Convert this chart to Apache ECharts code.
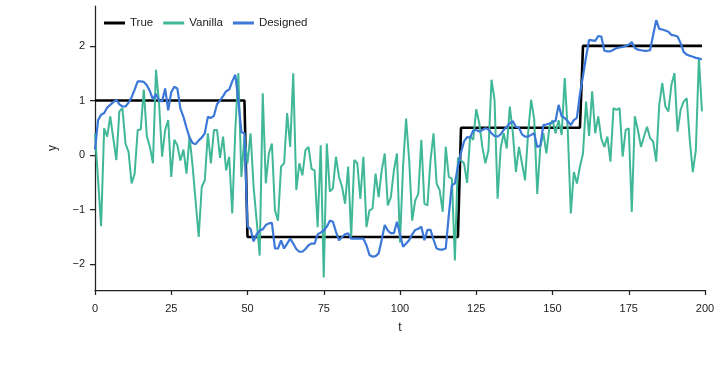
<!DOCTYPE html>
<html>
<head>
<meta charset="utf-8">
<script src="https://cdn.jsdelivr.net/npm/echarts@6/dist/echarts.min.js"></script>
<style>
  html, body { margin: 0; padding: 0; background: #fff; }
  #chart { width: 721px; height: 374px; }
</style>
</head>
<body>
<div id="chart"></div>
<script>
// ---------- data ----------
const xTicks = [0, 25, 50, 75, 100, 125, 150, 175, 200];
const yTicks = [-2, -1, 0, 1, 2];

// step signal: breakpoints
const trueT = [0, 49, 50, 119, 120, 159, 160, 199];
const trueY = [1, 1, -1.5, -1.5, 0.5, 0.5, 2, 2];

// t = 0..199
const vanilla = [
  0.4, -0.45, -1.3, 0.49, 0.34, 0.71, 0.3, -0.09, 0.8, 0.86,
  0.21, 0.06, -0.52, -0.34, 0.46, 0.47, 1.2, 0.34, 0.15, -0.15,
  1.56, 0.95, -0.03, 0.46, 0.64, -0.4, 0.28, 0.18, -0.1, 0.1,
  -0.34, 0.34, -0.2, -0.85, -1.5, -0.58, -0.46, 0.4, -0.15, 0.46,
  0.46, -0.05, 0.34, -0.28, -0.03, -1.07, 0.46, 1.5, -0.4, 0.34,
  -0.15, 0.4, -0.58, -1.2, -1.84, 1.13, -0.52, 0.03, 0.21, -1.01,
  -1.2, -0.21, -0.15, 0.77, 0.15, 1.5, -0.64, -0.15, -0.37, 0.09,
  0.15, -0.25, -0.28, -1.32, 0.18, -2.24, 0.21, -0.67, -0.61, -0.03,
  -0.4, -0.58, -0.89, -0.21, -1.5, -0.09, -0.15, -0.8, -0.03, -1.32,
  -1.01, -0.98, -0.34, -0.77, -0.28, 0.03, -0.92, -0.77, -0.28, 0.03,
  -1.6, -0.21, 0.67, -0.09, -1.2, -0.83, -0.71, 0.28, -0.89, -0.92,
  -0.1, 0.4, -0.52, -0.64, -1.04, 0.15, -0.4, -0.43, -1.93, -0.05,
  -0.1, -0.15, -0.51, 0.35, 0.28, 0.84, 0.58, 0.15, -0.15, 0.09,
  1.38, 1.01, -0.8, 0.12, 0.4, 0.12, 0.89, 0.4, -0.31, 0.15,
  -0.15, -0.46, 0.4, 1.01, 0.66, -0.71, 0.15, 0.4, 0.03, 0.52,
  0.64, 0.4, 0.64, 0.37, 1.41, 0.46, -1.07, -0.31, -0.52, -0.21,
  0.03, 0.98, 0.35, 1.17, 0.4, 0.71, 0.3, 0.15, 0.34, -0.12,
  0.86, 0.83, 0.86, -0.03, 0.46, 0.49, -1.04, 0.71, 0.46, 0.15,
  0.34, 0.52, 0.31, 0.25, -0.12, 0.92, 1.32, 0.89, 0.8, 1.29,
  1.5, 0.43, 0.83, 0.98, 1.04, 0.28, -0.31, 0.09, 1.78, 0.8
];

const designed = [
  0.1, 0.64, 0.74, 0.77, 0.87, 0.92, 0.97, 1.01, 0.93, 0.89,
  0.89, 0.96, 1.06, 1.2, 1.35, 1.35, 1.34, 1.28, 1.17, 1.02,
  1.12, 1.0, 0.98, 1.22, 0.82, 1.15, 1.25, 1.22, 0.85, 0.7,
  0.5, 0.32, 0.22, 0.2, 0.27, 0.32, 0.4, 0.7, 0.68, 0.72,
  0.93, 1.0, 1.08, 1.17, 1.2, 1.35, 1.47, 1.0, 0.42, 0.4,
  -1.31, -1.35, -1.58, -1.45, -1.38, -1.36, -1.28, -1.25, -1.24, -1.71,
  -1.71, -1.56, -1.71, -1.62, -1.53, -1.62, -1.72, -1.77, -1.77, -1.72,
  -1.65, -1.62, -1.62, -1.45, -1.42, -1.38, -1.31, -1.2, -1.22, -1.4,
  -1.56, -1.5, -1.45, -1.43, -1.53, -1.53, -1.53, -1.53, -1.53, -1.65,
  -1.83, -1.86, -1.85, -1.8, -1.55, -1.28, -1.38, -1.43, -1.43, -1.22,
  -1.45, -1.68, -1.62, -1.56, -1.45, -1.37, -1.35, -1.31, -1.56, -1.37,
  -1.37, -1.55, -1.71, -1.73, -1.73, -1.71, -1.1, -0.55, -0.52, -0.2,
  0.05, 0.25, 0.33, 0.32, 0.45, 0.46, 0.43, 0.46, 0.49, 0.47,
  0.4, 0.35, 0.34, 0.38, 0.46, 0.52, 0.58, 0.62, 0.52, 0.5,
  0.38, 0.34, 0.34, 0.37, 0.4, 0.15, 0.17, 0.55, 0.56, 0.58,
  0.6, 0.63, 0.92, 0.71, 0.68, 0.62, 0.55, 0.64, 0.68, 1.12,
  1.45, 1.8, 2.11, 2.1, 2.09, 2.18, 2.17, 1.91, 1.9, 1.9,
  1.93, 1.96, 1.97, 1.98, 2.0, 2.02, 2.07, 1.96, 1.93, 1.92,
  1.91, 1.91, 1.92, 2.2, 2.47, 2.31, 2.3, 2.28, 2.26, 2.2,
  2.19, 2.17, 2.05, 1.89, 1.84, 1.82, 1.8, 1.78, 1.77, 1.75
];

// ---------- chart ----------
const FONT = '"Liberation Sans", Arial, sans-serif';
const pairs = (ys, xs) => ys.map((v, i) => [xs ? xs[i] : i, v]);

const chart = echarts.init(document.getElementById('chart'), null, { renderer: 'canvas' });

const axisLine = { show: true, onZero: false, lineStyle: { color: '#222', width: 1.25 } };
const axisTick = { show: true, inside: false, length: 5, lineStyle: { color: '#222', width: 1.25 } };
const nameTextStyle = { fontFamily: FONT, fontSize: 12, color: '#222' };

chart.setOption({
  animation: false,
  backgroundColor: '#fff',
  grid: { left: 95, right: 16, top: 6, bottom: 84 },
  legend: {
    left: 99,
    top: 12,
    icon: 'rect',
    itemWidth: 21,
    itemHeight: 3,
    itemGap: 10,
    textStyle: { fontFamily: FONT, fontSize: 11.5, color: '#222' },
    data: ['True', 'Vanilla', 'Designed']
  },
  xAxis: {
    type: 'value',
    min: 0,
    max: 200,
    interval: 25,
    name: 't',
    nameLocation: 'middle',
    nameGap: 32,
    nameTextStyle,
    axisLine,
    axisTick: { ...axisTick, customValues: xTicks },
    splitLine: { show: false },
    axisLabel: { margin: 13, fontFamily: FONT, fontSize: 11, color: '#222', customValues: xTicks }
  },
  yAxis: {
    type: 'value',
    min: -2.47,
    max: 2.73,
    name: 'y',
    nameLocation: 'middle',
    nameGap: 36,
    nameTextStyle,
    axisLine,
    axisTick: { ...axisTick, customValues: yTicks },
    splitLine: { show: false },
    axisLabel: {
      margin: 10,
      fontFamily: FONT,
      fontSize: 11,
      color: '#222',
      customValues: yTicks,
      formatter: v => (v < 0 ? '\u2212' + Math.abs(v) : String(v))
    }
  },
  series: [
    {
      name: 'True',
      type: 'line',
      data: pairs(trueY, trueT),
      showSymbol: false,
      color: '#000',
      lineStyle: { color: '#000', width: 2.6 }
    },
    {
      name: 'Vanilla',
      type: 'line',
      data: pairs(vanilla),
      showSymbol: false,
      color: '#40b898',
      lineStyle: { color: '#40b898', width: 2 }
    },
    {
      name: 'Designed',
      type: 'line',
      data: pairs(designed),
      showSymbol: false,
      color: '#3b78d8',
      lineStyle: { color: '#3b78d8', width: 2.2 }
    }
  ]
});
</script>
</body>
</html>
